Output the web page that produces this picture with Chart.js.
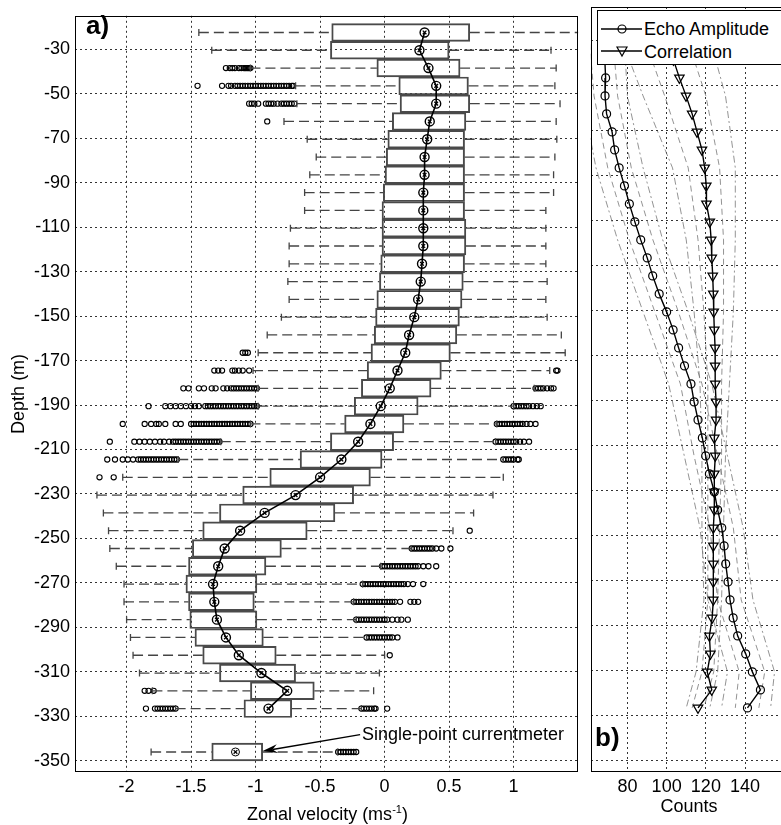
<!DOCTYPE html>
<html>
<head>
<meta charset="utf-8">
<script src="https://cdn.jsdelivr.net/npm/chart.js@4.4.1/dist/chart.umd.min.js"></script>
<style>
  body { margin: 0; background: #fff; width: 781px; height: 825px; overflow: hidden; position: relative;
         font-family: "Liberation Sans", Arial, sans-serif; color: #000; }
  #wrapA { position: absolute; left: 0; top: 0; width: 584px; height: 825px; }
  #wrapB { position: absolute; left: 584px; top: 0; width: 210px; height: 825px; }
  .lbl { position: absolute; white-space: nowrap; }
  .panel { font-weight: bold; font-size: 26px; line-height: 26px; }
  #legend { position: absolute; left: 597px; top: 10px; width: 200px; height: 53px; background: #fff;
            border: 1px solid #000; font-size: 18px; }
  #legend .row { position: absolute; left: 0; width: 200px; height: 24px; line-height: 24px; white-space: nowrap; }
  #legend svg { position: absolute; left: 0; top: 0; }
  #legend span { position: absolute; left: 46px; top: 0; white-space: nowrap; }
</style>
</head>
<body>
<div id="wrapA"><canvas id="velocity"></canvas></div>
<div id="wrapB"><canvas id="counts"></canvas></div>

<div class="lbl panel" style="left:86px; top:12px;">a)</div>
<div class="lbl panel" style="left:595px; top:724px;">b)</div>
<div class="lbl" style="left:362px; top:724px; font-size:18px; line-height:20px;">Single-point currentmeter</div>
<div class="lbl" style="left:75px; width:505px; top:799px; text-align:center; font-size:18px; line-height:20px;">Zonal velocity (ms<sup style="font-size:11px;">-1</sup>)</div>

<div id="legend">
  <div class="row" style="top:6px;">
    <svg width="46" height="24"><line x1="3" y1="12" x2="44" y2="12" stroke="#000" stroke-width="1.3"/><circle cx="24" cy="12" r="4" fill="none" stroke="#000" stroke-width="1.2"/></svg>
    <span>Echo Amplitude</span>
  </div>
  <div class="row" style="top:29px;">
    <svg width="46" height="24"><line x1="3" y1="11" x2="44" y2="11" stroke="#000" stroke-width="1.3"/><polygon points="19,7 29,7 24,16" fill="none" stroke="#000" stroke-width="1.2"/></svg>
    <span>Correlation</span>
  </div>
</div>

<script>
// depth of each bin (m)
const depths = [-22.5, -30.5, -38.5, -46.5, -54.5, -62.5, -70.5, -78.5, -86.5, -94.5,
  -102.5, -110.5, -118.5, -126.5, -134.5, -142.5, -150.5, -158.5, -166.5, -174.5,
  -182.5, -190.5, -198.5, -206.5, -214.5, -222.5, -230.5, -238.5, -246.5, -254.5,
  -262.5, -270.5, -278.5, -286.5, -294.5, -302.5, -310.5, -318.5, -326.5];

// box plot stats of zonal velocity (m/s)
const whiskLo = [-1.44, -1.34, -1.04, -0.69, -0.68, -0.78, -0.60, -0.53, -0.58, -0.62,
  -0.62, -0.73, -0.74, -0.74, -0.75, -0.74, -0.80, -0.91, -0.98, -1.02,
  -0.98, -0.98, -1.04, -1.27, -1.60, -2.03, -2.23, -2.18, -2.14, -2.13,
  -2.08, -2.02, -2.02, -2.00, -1.97, -1.95, -1.90, -1.80, -1.62];
const q1 = [-0.41, -0.42, -0.06, 0.11, 0.12, 0.06, 0.025, 0.013, 0.0, -0.01,
  -0.02, -0.02, -0.02, -0.03, -0.04, -0.06, -0.07, -0.08, -0.105, -0.135,
  -0.18, -0.235, -0.31, -0.42, -0.655, -0.89, -1.10, -1.28, -1.41, -1.49,
  -1.52, -1.54, -1.52, -1.51, -1.47, -1.41, -1.28, -1.04, -1.09];
const medians = [0.31, 0.27, 0.34, 0.40, 0.40, 0.35, 0.33, 0.31, 0.31, 0.30,
  0.30, 0.30, 0.30, 0.29, 0.28, 0.26, 0.23, 0.19, 0.16, 0.10,
  0.04, -0.03, -0.11, -0.205, -0.335, -0.50, -0.69, -0.93, -1.12, -1.24,
  -1.29, -1.33, -1.32, -1.30, -1.23, -1.13, -0.955, -0.755, -0.90];
const q3 = [0.66, 0.50, 0.585, 0.65, 0.66, 0.63, 0.62, 0.62, 0.62, 0.62,
  0.62, 0.63, 0.63, 0.62, 0.61, 0.60, 0.58, 0.56, 0.51, 0.44,
  0.36, 0.26, 0.15, 0.07, -0.02, -0.11, -0.24, -0.385, -0.60, -0.80,
  -0.92, -0.99, -1.01, -0.99, -0.94, -0.84, -0.69, -0.545, -0.72];
const whiskHi = [1.6, 1.29, 1.33, 1.32, 1.36, 1.33, 1.335, 1.32, 1.31, 1.31,
  1.25, 1.25, 1.25, 1.25, 1.26, 1.25, 1.26, 1.37, 1.40, 1.28,
  1.16, 1.00, 0.87, 0.86, 0.92, 0.92, 0.84, 0.69, 0.53, 0.205,
  -0.03, -0.17, -0.24, -0.22, -0.14, 0.0, -0.04, -0.085, -0.18];

// outliers per depth
const outliers = [
  [-38.5, [-1.23, -1.2, -1.18, -1.16, -1.13, -1.11, -1.09, -1.08, -1.07, -1.06, -1.05, -1.04]],
  [-46.5, [-1.45, -1.26, -1.21, -1.19, -1.16, -1.14, -1.12, -1.1, -1.08, -1.06, -1.04, -1.02, -1.0, -0.98,
           -0.96, -0.94, -0.92, -0.9, -0.88, -0.86, -0.84, -0.82, -0.8, -0.78, -0.76, -0.74, -0.72, -0.71]],
  [-54.5, [-1.05, -1.03, -1.01, -0.98, -0.92, -0.9, -0.88, -0.86, -0.83, -0.8, -0.78, -0.76, -0.74, -0.72, -0.7]],
  [-62.5, [-0.91]],
  [-166.5, [-1.1, -1.08, -1.06]],
  [-174.5, [-1.32, -1.29, -1.26, -1.18, -1.16, -1.13, -1.1, -1.05, 1.33, 1.34]],
  [-182.5, [-1.56, -1.52, -1.44, -1.4, -1.34, -1.31, -1.25, -1.22, -1.19, -1.17, -1.15, -1.13, -1.11, -1.09,
            -1.07, -1.05, -1.03, -1.01, -0.99, 1.17, 1.19, 1.21, 1.23, 1.26, 1.29, 1.31]],
  [-190.5, [-1.83, -1.7, -1.66, -1.62, -1.58, -1.54, -1.5, -1.47, -1.44, -1.39, -1.37, -1.35, -1.33, -1.31,
            -1.29, -1.27, -1.25, -1.23, -1.21, -1.19, -1.17, -1.15, -1.13, -1.11, -1.09, -1.07, -1.05, -1.03,
            -1.01, -0.99, 1.0, 1.02, 1.04, 1.06, 1.08, 1.1, 1.12, 1.15, 1.18, 1.21]],
  [-198.5, [-2.03, -1.86, -1.81, -1.77, -1.75, -1.7, -1.62, -1.58, -1.5, -1.48, -1.46, -1.44, -1.42, -1.4,
            -1.38, -1.36, -1.34, -1.32, -1.3, -1.28, -1.26, -1.24, -1.22, -1.2, -1.18, -1.16, -1.14, -1.12,
            -1.1, -1.08, -1.06, -1.04, 0.87, 0.89, 0.91, 0.93, 0.95, 0.97, 0.99, 1.01, 1.03, 1.05, 1.07,
            1.1, 1.13, 1.17]],
  [-206.5, [-2.13, -1.94, -1.9, -1.86, -1.82, -1.78, -1.74, -1.71, -1.67, -1.64, -1.62, -1.6, -1.58, -1.56,
            -1.54, -1.52, -1.5, -1.48, -1.46, -1.44, -1.42, -1.4, -1.38, -1.36, -1.34, -1.32, -1.3, -1.28,
            0.86, 0.88, 0.9, 0.92, 0.94, 0.96, 0.98, 1.0, 1.02, 1.05, 1.08, 1.12]],
  [-214.5, [-2.15, -2.09, -2.03, -1.99, -1.95, -1.91, -1.89, -1.87, -1.85, -1.83, -1.81, -1.79, -1.77, -1.75,
            -1.73, -1.71, -1.69, -1.67, -1.65, -1.63, -1.61, 0.92, 0.94, 0.96, 0.98, 1.0, 1.03, 1.04]],
  [-222.5, [-2.21, -2.1]],
  [-246.5, [0.66]],
  [-254.5, [0.21, 0.23, 0.25, 0.27, 0.29, 0.31, 0.33, 0.35, 0.37, 0.4, 0.44, 0.51]],
  [-262.5, [-0.02, 0.0, 0.02, 0.04, 0.06, 0.08, 0.1, 0.12, 0.14, 0.16, 0.18, 0.2, 0.22, 0.24, 0.26, 0.3, 0.34, 0.4]],
  [-270.5, [-0.17, -0.15, -0.13, -0.11, -0.09, -0.07, -0.05, -0.03, -0.01, 0.01, 0.03, 0.05, 0.07, 0.09,
            0.11, 0.13, 0.15, 0.18, 0.22, 0.3]],
  [-278.5, [-0.24, -0.22, -0.2, -0.18, -0.16, -0.14, -0.12, -0.1, -0.08, -0.06, -0.04, -0.02, 0.0, 0.02,
            0.04, 0.06, 0.08, 0.12, 0.2, 0.23, 0.26]],
  [-286.5, [-0.22, -0.2, -0.18, -0.16, -0.14, -0.12, -0.1, -0.08, -0.06, -0.04, -0.02, 0.0, 0.02, 0.06, 0.1, 0.13, 0.18]],
  [-294.5, [-0.14, -0.12, -0.1, -0.08, -0.06, -0.04, -0.02, 0.0, 0.02, 0.04, 0.06, 0.1]],
  [-302.5, [0.04]],
  [-318.5, [-1.86, -1.83, -1.79]],
  [-326.5, [-1.85, -1.78, -1.76, -1.74, -1.72, -1.7, -1.68, -1.66, -1.64, -1.62,
            -0.18, -0.16, -0.14, -0.12, -0.1, -0.08, -0.07, 0.02]]
];

// single-point currentmeter
const spDepth = -346;
const spStats = [-1.81, -1.34, -1.156, -0.945, -0.365]; // lo, q1, median, q3, hi
const spOutliers = [-0.36, -0.34, -0.32, -0.3, -0.28, -0.26, -0.24, -0.22];
const arrowFrom = [-0.19, -338.2];
const arrowTo = [-0.945, -345.6];

// panel b
const echoAmp = [67, 68, 68.5, 68.9, 68.6, 69.4, 72.2, 73.5, 75.8, 78.5,
  81.0, 83.8, 86.8, 90.1, 92.9, 96.2, 100.0, 103.3, 106.1, 109.1,
  112.4, 114.0, 116.0, 118.2, 119.9, 121.8, 124.3, 126.0, 128.1, 129.3,
  130.1, 131.3, 132.3, 133.9, 136.2, 140.3, 143.7, 147.8, 141.2];
const correlation = [96, 100, 103.5, 106.5, 109.9, 113.0, 115.5, 118.0, 119.4, 120.2,
  120.3, 122.0, 122.7, 123.0, 123.5, 123.8, 124.0, 124.3, 124.7, 124.7,
  124.8, 125.2, 125.2, 124.3, 124.8, 124.3, 124.3, 124.3, 123.8, 123.8,
  123.8, 123.8, 123.8, 123.2, 121.8, 122.3, 120.7, 123.0, 116.0];
const envDepths = [-22.5, -54.5, -86.5, -118.5, -150.5, -182.5, -214.5, -246.5, -278.5, -310.5, -326.5];
const echoOuterLo = [54, 57, 64, 75, 88, 101, 109, 117, 121, 131, 128];
const echoOuterHi = [78, 80, 88, 98, 111, 123, 131, 139, 144, 155, 153];
const echoInnerLo = [60, 63, 70, 81, 94, 107, 114, 122, 126, 137, 135];
const echoInnerHi = [72, 75, 82, 93, 106, 118, 126, 134, 138, 150, 147];
const corrOuterLo = [74, 88, 103, 110, 114, 117, 118, 118, 119, 115, 110];
const corrOuterHi = [120, 130, 135, 135, 134, 132, 130, 129, 128, 126, 122];
const corrInnerLo = [86, 99, 111, 116, 119, 121, 121, 121, 121, 118, 113];
const corrInnerHi = [108, 120, 127, 129, 129, 128, 128, 127, 126, 124, 119];

// ticks
const velTicks = [-2, -1.5, -1, -0.5, 0, 0.5, 1];
const depthTicks = [-30, -50, -70, -90, -110, -130, -150, -170, -190, -210, -230, -250, -270, -290, -310, -330, -350];
const countTicks = [80, 100, 120, 140];

const FONT = '"Liberation Sans", Arial, sans-serif';

// whisker segments with gaps in between
const whiskerPts = [];
const capPts = [];
depths.forEach((d, i) => {
  whiskerPts.push({ x: whiskLo[i], y: d }, { x: q1[i], y: d }, { x: null, y: d });
  whiskerPts.push({ x: q3[i], y: d }, { x: whiskHi[i], y: d }, { x: null, y: d });
  capPts.push({ x: whiskLo[i], y: d }, { x: whiskHi[i], y: d });
});
whiskerPts.push({ x: spStats[0], y: spDepth }, { x: spStats[1], y: spDepth }, { x: null, y: spDepth });
whiskerPts.push({ x: spStats[3], y: spDepth }, { x: spStats[4], y: spDepth });
capPts.push({ x: spStats[0], y: spDepth }, { x: spStats[4], y: spDepth });

const outlierPts = [];
outliers.forEach(([d, xs]) => xs.forEach((v) => outlierPts.push({ x: v, y: d })));
spOutliers.forEach((v) => outlierPts.push({ x: v, y: spDepth }));

const medianPts = depths.map((d, i) => ({ x: medians[i], y: d }));

const framePlugin = {
  id: "frame",
  afterDraw(chart) {
    const { ctx, chartArea: a } = chart;
    ctx.save();
    ctx.strokeStyle = "#000";
    ctx.lineWidth = 1;
    ctx.strokeRect(Math.round(a.left) + 0.5, Math.round(a.top) + 0.5,
      Math.round(a.right - a.left) - 1, Math.round(a.bottom - a.top) - 1);
    ctx.restore();
  },
};

const arrowPlugin = {
  id: "arrow",
  afterDatasetsDraw(chart) {
    const { ctx } = chart;
    const xs = chart.scales.x, ys = chart.scales.y;
    const x0 = xs.getPixelForValue(arrowFrom[0]), y0 = ys.getPixelForValue(arrowFrom[1]);
    const x1 = xs.getPixelForValue(arrowTo[0]), y1 = ys.getPixelForValue(arrowTo[1]);
    const ang = Math.atan2(y1 - y0, x1 - x0);
    ctx.save();
    ctx.strokeStyle = "#000";
    ctx.fillStyle = "#000";
    ctx.lineWidth = 1.5;
    ctx.beginPath();
    ctx.moveTo(x0, y0);
    ctx.lineTo(x1 - 10 * Math.cos(ang), y1 - 10 * Math.sin(ang));
    ctx.stroke();
    ctx.beginPath();
    ctx.moveTo(x1, y1);
    ctx.lineTo(x1 - 15 * Math.cos(ang) + 4.5 * Math.sin(ang), y1 - 15 * Math.sin(ang) - 4.5 * Math.cos(ang));
    ctx.lineTo(x1 - 10 * Math.cos(ang), y1 - 10 * Math.sin(ang));
    ctx.lineTo(x1 - 15 * Math.cos(ang) - 4.5 * Math.sin(ang), y1 - 15 * Math.sin(ang) + 4.5 * Math.cos(ang));
    ctx.closePath();
    ctx.fill();
    ctx.restore();
  },
};

const gridOpts = { color: "#333", lineWidth: 1, drawTicks: false, offset: false };
const borderOpts = { display: false, dash: [2, 3] };

new Chart(document.getElementById("velocity"), {
  type: "bar",
  data: {
    datasets: [
      {
        type: "line",
        data: medianPts,
        borderColor: "#000",
        borderWidth: 1.6,
        pointStyle: "circle",
        pointRadius: 4.5,
        pointBorderWidth: 1.4,
        pointBackgroundColor: "rgba(0,0,0,0)",
        pointBorderColor: "#000",
      },
      {
        type: "line",
        data: medianPts.concat([{ x: spStats[2], y: spDepth }]),
        showLine: false,
        pointStyle: "crossRot",
        pointRadius: 2.6,
        pointBorderWidth: 1.3,
        pointBorderColor: "#000",
      },
      {
        type: "line",
        data: [{ x: spStats[2], y: spDepth }],
        showLine: false,
        pointStyle: "circle",
        pointRadius: 4,
        pointBorderWidth: 1,
        pointBackgroundColor: "rgba(0,0,0,0)",
        pointBorderColor: "#000",
      },
      {
        label: "box",
        data: depths.map((d, i) => ({ x: [q1[i], q3[i]], y: d })),
        backgroundColor: "rgba(0,0,0,0)",
        borderColor: "#4a4a4a",
        borderWidth: 1.3,
        borderSkipped: false,
        barPercentage: 1,
        categoryPercentage: 1,
        grouped: false,
      },
      {
        label: "single",
        data: [{ x: [spStats[1], spStats[3]], y: spDepth }],
        backgroundColor: "rgba(0,0,0,0)",
        borderColor: "#4a4a4a",
        borderWidth: 1.3,
        borderSkipped: false,
        barPercentage: 1,
        categoryPercentage: 1,
        grouped: false,
      },
      {
        type: "line",
        data: whiskerPts,
        borderColor: "#444",
        borderWidth: 1.3,
        borderDash: [10, 5],
        pointRadius: 0,
        spanGaps: false,
      },
      {
        type: "line",
        data: capPts,
        showLine: false,
        pointStyle: "line",
        rotation: 90,
        pointRadius: 3.5,
        pointBorderWidth: 1.3,
        pointBorderColor: "#444",
      },
      {
        type: "line",
        data: outlierPts,
        showLine: false,
        pointStyle: "circle",
        pointRadius: 2.6,
        pointBorderWidth: 1.1,
        pointBackgroundColor: "rgba(0,0,0,0)",
        pointBorderColor: "#000",
      },
    ],
  },
  options: {
    animation: false,
    responsive: true,
    maintainAspectRatio: false,
    indexAxis: "y",
    layout: { padding: { top: 7, right: 4, left: 0, bottom: 0 } },
    plugins: { legend: { display: false }, tooltip: { enabled: false } },
    scales: {
      x: {
        type: "linear",
        min: -2.4,
        max: 1.5,
        afterBuildTicks: (axis) => { axis.ticks = velTicks.map((v) => ({ value: v })); },
        afterFit: (s) => { s.height = 53; },
        ticks: { font: { family: FONT, size: 18 }, color: "#000", padding: 4, callback: (v) => String(v) },
        grid: gridOpts,
        border: borderOpts,
      },
      y: {
        type: "linear",
        min: -355,
        max: -15,
        offset: false,
        afterBuildTicks: (axis) => { axis.ticks = depthTicks.map((v) => ({ value: v })); },
        afterFit: (s) => { s.width = 75; },
        ticks: { font: { family: FONT, size: 18 }, color: "#000", padding: 5, callback: (v) => String(v) },
        title: { display: true, text: "Depth (m)", font: { family: FONT, size: 18 }, color: "#000", padding: { top: 8, bottom: 0 } },
        grid: gridOpts,
        border: borderOpts,
      },
    },
  },
  plugins: [framePlugin, arrowPlugin],
});

function prof(values, ds) {
  return values.map((v, i) => ({ x: v, y: ds[i] }));
}
const envStyle = (vals, dash) => ({
  data: prof(vals, envDepths),
  showLine: true,
  borderColor: "#777",
  borderWidth: 0.8,
  borderDash: dash,
  pointRadius: 0,
});

new Chart(document.getElementById("counts"), {
  type: "scatter",
  data: {
    datasets: [
      {
        label: "Echo Amplitude",
        data: prof(echoAmp, depths),
        showLine: true,
        borderColor: "#000",
        borderWidth: 1.4,
        pointStyle: "circle",
        pointRadius: 4,
        pointBorderWidth: 1.2,
        pointBackgroundColor: "rgba(0,0,0,0)",
        pointBorderColor: "#000",
      },
      {
        label: "Correlation",
        data: prof(correlation, depths),
        showLine: true,
        borderColor: "#000",
        borderWidth: 1.4,
        pointStyle: "triangle",
        rotation: 180,
        pointRadius: 5.5,
        pointBorderWidth: 1.2,
        pointBackgroundColor: "rgba(0,0,0,0)",
        pointBorderColor: "#000",
      },
      envStyle(echoOuterLo, [7, 3, 2, 3]),
      envStyle(echoOuterHi, [7, 3, 2, 3]),
      envStyle(echoInnerLo, [6, 4]),
      envStyle(echoInnerHi, [6, 4]),
      envStyle(corrOuterLo, [7, 3, 2, 3]),
      envStyle(corrOuterHi, [7, 3, 2, 3]),
      envStyle(corrInnerLo, [6, 4]),
      envStyle(corrInnerHi, [6, 4]),
    ],
  },
  options: {
    animation: false,
    responsive: true,
    maintainAspectRatio: false,
    layout: { padding: { top: 7, right: 4, left: 0, bottom: 0 } },
    plugins: { legend: { display: false }, tooltip: { enabled: false } },
    scales: {
      x: {
        type: "linear",
        min: 61.3,
        max: 161.5,
        afterBuildTicks: (axis) => { axis.ticks = countTicks.map((v) => ({ value: v })); },
        afterFit: (s) => { s.height = 53; },
        ticks: { font: { family: FONT, size: 18 }, color: "#000", padding: 4, callback: (v) => String(v) },
        title: { display: true, text: "Counts", font: { family: FONT, size: 18 }, color: "#000", padding: { top: 0, bottom: 7 } },
        grid: gridOpts,
        border: borderOpts,
      },
      y: {
        type: "linear",
        min: -355,
        max: -15,
        afterBuildTicks: (axis) => { axis.ticks = depthTicks.map((v) => ({ value: v })); },
        afterFit: (s) => { s.width = 4; },
        ticks: { display: false },
        grid: gridOpts,
        border: borderOpts,
      },
    },
  },
  plugins: [framePlugin],
});
</script>
</body>
</html>
